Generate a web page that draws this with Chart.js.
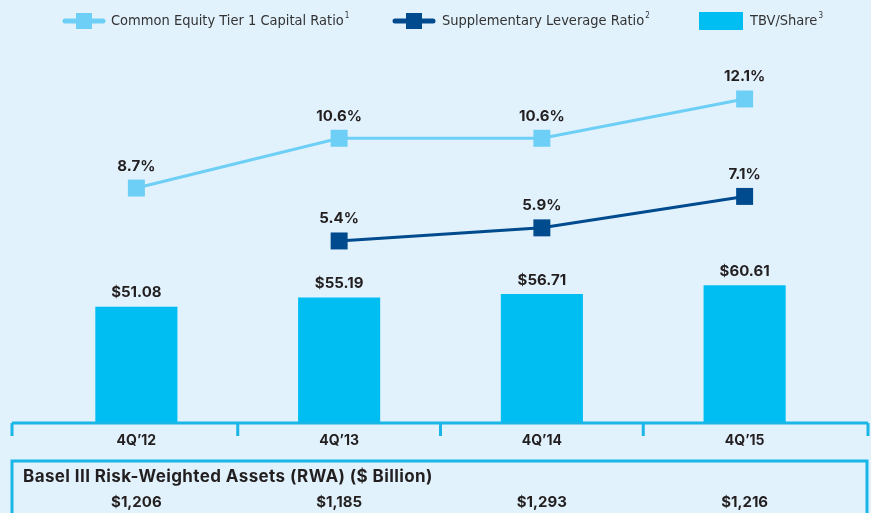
<!DOCTYPE html>
<html lang="en">
<head>
    <meta charset="UTF-8">
    <title>Capital Ratios and TBV/Share</title>
    <script src="https://cdn.jsdelivr.net/npm/chart.js"></script>
    <style>
        html, body { margin: 0; padding: 0; background: #e1f2fc; }
        #wrap { width: 871px; height: 513px; position: relative; }
    </style>
</head>
<body>
    <div id="wrap"><canvas id="chart" width="871" height="513"></canvas></div>
    <script>
        // data
        const categories = ['4Q\u201912', '4Q\u201913', '4Q\u201914', '4Q\u201915'];
        const cet1Ratio = [8.7, 10.6, 10.6, 12.1];
        const leverageRatio = [null, 5.4, 5.9, 7.1];
        const tbvPerShare = [51.08, 55.19, 56.71, 60.61];
        const rwaBillions = [1206, 1185, 1293, 1216];

        const textColor = '#231f20';
        const axisColor = '#1ab6e8';
        const barColor = '#00bef2';
        const cetColor = '#6dcff6';
        const slrColor = '#004b8d';
        const boldFont = '"Inter", "Open Sans", sans-serif';
        const narrowFont = '"Liberation Sans Narrow", "DejaVu Sans Condensed", sans-serif';

        // legend, value labels, axis and RWA box
        const decorations = {
            id: 'decorations',
            afterDatasetsDraw(chart) {
                const ctx = chart.ctx;
                const x = chart.scales.x;
                ctx.save();

                // value labels
                ctx.fillStyle = textColor;
                ctx.textAlign = 'center';
                ctx.textBaseline = 'middle';
                ctx.font = '700 15px ' + boldFont;
                chart.data.datasets.forEach((ds, di) => {
                    const meta = chart.getDatasetMeta(di);
                    meta.data.forEach((el, i) => {
                        const v = ds.data[i];
                        if (v === null) return;
                        if (ds.type === 'bar') {
                            ctx.fillText('$' + v.toFixed(2), el.x, el.y - 14);
                        } else {
                            ctx.fillText(v.toFixed(1) + '%', el.x, el.y - 22);
                        }
                    });
                });

                // category axis
                const axisY = chart.chartArea.bottom;
                const step = x.getPixelForValue(1) - x.getPixelForValue(0);
                const leftEnd = 12, rightEnd = 868;
                ctx.strokeStyle = axisColor;
                ctx.lineWidth = 3;
                ctx.beginPath();
                ctx.moveTo(leftEnd, axisY);
                ctx.lineTo(rightEnd, axisY);
                const tickXs = [leftEnd, rightEnd];
                for (let i = 0; i < categories.length - 1; i++) {
                    tickXs.push(x.getPixelForValue(i) + step / 2);
                }
                tickXs.forEach(tx => {
                    ctx.moveTo(tx, axisY);
                    ctx.lineTo(tx, axisY + 13);
                });
                ctx.stroke();

                ctx.font = '700 14px ' + boldFont;
                categories.forEach((c, i) => {
                    ctx.fillText(c, x.getPixelForValue(i), axisY + 18);
                });

                // RWA box
                ctx.beginPath();
                ctx.moveTo(12, 520);
                ctx.lineTo(12, 461);
                ctx.lineTo(867, 461);
                ctx.lineTo(867, 520);
                ctx.stroke();
                ctx.textAlign = 'left';
                ctx.font = '700 17px ' + boldFont;
                ctx.letterSpacing = '0.4px';
                ctx.fillText('Basel III Risk-Weighted Assets (RWA) ($ Billion)', 23, 477);
                ctx.letterSpacing = '0px';
                ctx.textAlign = 'center';
                ctx.font = '700 15px ' + boldFont;
                rwaBillions.forEach((v, i) => {
                    ctx.fillText('$' + v.toLocaleString('en-US'), x.getPixelForValue(i), 502);
                });

                // legend
                const ly = 21;
                const lineIcon = (cx, color) => {
                    ctx.strokeStyle = color;
                    ctx.lineWidth = 5;
                    ctx.lineCap = 'round';
                    ctx.beginPath();
                    ctx.moveTo(cx - 19, ly);
                    ctx.lineTo(cx + 19, ly);
                    ctx.stroke();
                    ctx.fillStyle = color;
                    ctx.fillRect(cx - 8, ly - 8, 16, 16);
                };
                const legendText = (tx, label, sup) => {
                    ctx.fillStyle = '#333';
                    ctx.textAlign = 'left';
                    ctx.font = '14.5px ' + narrowFont;
                    ctx.fillText(label, tx, ly);
                    const w = ctx.measureText(label).width;
                    ctx.font = '8px ' + narrowFont;
                    ctx.fillText(sup, tx + w + 1, ly - 5);
                };
                lineIcon(84, cetColor);
                legendText(111, 'Common Equity Tier 1 Capital Ratio', '1');
                lineIcon(414, slrColor);
                legendText(442, 'Supplementary Leverage Ratio', '2');
                ctx.fillStyle = barColor;
                ctx.fillRect(699, ly - 9, 44, 18);
                legendText(750, 'TBV/Share', '3');

                ctx.restore();
            }
        };

        const ctx = document.getElementById('chart').getContext('2d');
        new Chart(ctx, {
            data: {
                labels: categories,
                datasets: [
                    {
                        type: 'line',
                        label: 'Common Equity Tier 1 Capital Ratio',
                        data: cet1Ratio,
                        yAxisID: 'yCet',
                        borderColor: cetColor,
                        backgroundColor: cetColor,
                        borderWidth: 3,
                        pointStyle: 'rect',
                        pointRadius: 12,
                        pointBorderWidth: 0,
                        tension: 0,
                        order: 1
                    },
                    {
                        type: 'line',
                        label: 'Supplementary Leverage Ratio',
                        data: leverageRatio,
                        yAxisID: 'ySlr',
                        borderColor: slrColor,
                        backgroundColor: slrColor,
                        borderWidth: 3,
                        pointStyle: 'rect',
                        pointRadius: 12,
                        pointBorderWidth: 0,
                        tension: 0,
                        order: 0
                    },
                    {
                        type: 'bar',
                        label: 'TBV/Share',
                        data: tbvPerShare,
                        yAxisID: 'yBar',
                        backgroundColor: barColor,
                        barPercentage: 0.405,
                        categoryPercentage: 1,
                        order: 2
                    }
                ]
            },
            options: {
                responsive: false,
                animation: false,
                layout: { padding: { top: 50, bottom: 90, left: 35, right: 25 } },
                plugins: { legend: { display: false }, tooltip: { enabled: false } },
                scales: {
                    x: { display: false, offset: true },
                    yBar: { display: false, min: 0, max: 164 },
                    yCet: { display: false, min: -0.27, max: 13.97 },
                    ySlr: { display: false, min: -1.55, max: 12.69 }
                }
            },
            plugins: [decorations]
        });
    </script>
</body>
</html>
